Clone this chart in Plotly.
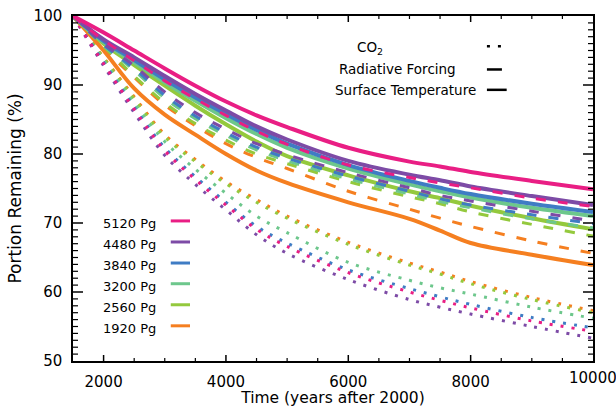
import plotly.graph_objects as go

# Time axis (years after 2000) shared by every curve
YEARS = [1500, 2000, 2500, 3000, 3500, 4000, 4500, 5000, 6000, 7000, 7500, 8000, 9000, 10000]

EMISSIONS = ["5120 Pg", "4480 Pg", "3840 Pg", "3200 Pg", "2560 Pg", "1920 Pg"]
COLORS = ["#E91E84", "#7D4BA6", "#3F7CC4", "#6DC78C", "#94C93D", "#F57F20"]

# Surface temperature, portion remaining (%)
TEMP_5120 = [100, 97.6, 95.0, 92.4, 89.9, 87.6, 85.6, 83.9, 80.9, 78.9, 78.2, 77.4, 76.1, 74.9]
TEMP_4480 = [100, 96.6, 94.0, 91.3, 88.7, 86.3, 84.0, 82.1, 79.0, 77.0, 76.2, 75.3, 73.9, 72.6]
TEMP_3840 = [100, 96.4, 93.6, 90.8, 88.2, 85.8, 83.5, 81.5, 78.4, 76.1, 75.1, 74.2, 72.8, 71.6]
TEMP_3200 = [100, 96.2, 93.3, 90.4, 87.7, 85.2, 82.9, 80.9, 77.9, 75.6, 74.6, 73.7, 72.2, 71.0]
TEMP_2560 = [100, 96.0, 92.9, 89.9, 87.0, 84.3, 81.8, 79.7, 76.9, 74.6, 73.6, 72.5, 70.7, 69.1]
TEMP_1920 = [100, 95.0, 89.5, 85.7, 82.8, 80.0, 77.6, 75.8, 73.0, 70.6, 68.9, 67.1, 65.4, 63.9]

# Radiative forcing, portion remaining (%)
RF_5120 = [100, 96.5, 93.5, 90.6, 88.0, 85.6, 83.3, 81.4, 78.4, 76.6, 75.8, 75.1, 73.6, 72.4]
RF_4480 = [100, 96.0, 92.8, 89.0, 86.0, 83.6, 81.5, 79.9, 77.3, 75.1, 74.0, 73.2, 71.7, 70.3]
RF_3840 = [100, 95.8, 92.4, 88.5, 85.5, 83.1, 81.0, 79.4, 76.8, 74.6, 73.5, 72.6, 71.2, 69.9]
RF_3200 = [100, 95.7, 92.1, 88.1, 85.1, 82.7, 80.6, 79.0, 76.4, 74.2, 73.1, 72.2, 70.6, 69.3]
RF_2560 = [100, 95.6, 91.3, 87.4, 84.4, 82.0, 80.0, 78.6, 76.0, 73.8, 72.8, 71.6, 69.8, 68.1]
RF_1920 = [100, 95.3, 91.1, 87.1, 84.1, 81.5, 79.5, 77.9, 74.6, 72.0, 70.7, 69.5, 67.4, 65.6]

# Atmospheric CO2, portion remaining (%)
CO2_5120 = [100, 93.1, 86.5, 80.5, 76.3, 72.6, 69.1, 66.6, 62.8, 60.0, 58.8, 57.7, 55.8, 54.3]
CO2_4480 = [100, 92.8, 86.0, 79.8, 75.6, 71.9, 68.3, 65.6, 61.8, 58.9, 57.8, 56.8, 55.0, 53.3]
CO2_3840 = [100, 93.3, 86.8, 80.9, 76.7, 73.0, 69.5, 67.1, 63.2, 60.5, 59.3, 58.2, 56.3, 54.8]
CO2_3200 = [100, 93.6, 87.4, 81.8, 77.8, 74.3, 71.0, 68.6, 64.3, 61.7, 60.6, 59.7, 57.8, 56.2]
CO2_2560 = [100, 93.9, 88.0, 82.5, 78.9, 75.7, 73.0, 70.7, 66.9, 63.9, 62.6, 61.2, 58.9, 57.0]
CO2_1920 = [100, 94.0, 88.3, 82.8, 79.2, 76.0, 73.4, 71.0, 67.2, 64.2, 62.9, 61.5, 59.2, 57.3]

TEMP = [TEMP_5120, TEMP_4480, TEMP_3840, TEMP_3200, TEMP_2560, TEMP_1920]
RF = [RF_5120, RF_4480, RF_3840, RF_3200, RF_2560, RF_1920]
CO2 = [CO2_5120, CO2_4480, CO2_3840, CO2_3200, CO2_2560, CO2_1920]

X_RANGE = [1500, 10000]
Y_RANGE = [50, 100]
X_TICKS = [2000, 4000, 6000, 8000, 10000]
X_TICK_TEXT = ["2000", "4000", "6000", "8000", ""]
Y_TICKS = [50, 60, 70, 80, 90, 100]
Y_TICK_TEXT = ["50", "60", "70", "80", "90", "100"]
X_MINOR_STEP = 500
Y_MINOR_STEP = 1

FONT = "DejaVu Sans"
DOT = "3px,8px"
DASH = "10px,12px"
AXIS_COLOR = "black"

# plot box in pixels, used to turn tick lengths into paper fractions
MARGIN = dict(l=73, r=23, t=16, b=46)
FIG_W, FIG_H = 616, 407
BOX_W = FIG_W - MARGIN["l"] - MARGIN["r"]
BOX_H = FIG_H - MARGIN["t"] - MARGIN["b"]

fig = go.Figure()

# draw larger emissions last so they sit on top
order = list(range(len(EMISSIONS)))[::-1]
for i in order:
    fig.add_trace(go.Scatter(x=YEARS, y=CO2[i], mode="lines", line_shape="spline",
                             line=dict(color=COLORS[i], width=3, dash=DOT),
                             showlegend=False, hoverinfo="skip"))
for i in order:
    fig.add_trace(go.Scatter(x=YEARS, y=TEMP[i], mode="lines", line_shape="spline",
                             line=dict(color=COLORS[i], width=4),
                             showlegend=False, hoverinfo="skip"))
for i in order:
    fig.add_trace(go.Scatter(x=YEARS, y=RF[i], mode="lines", line_shape="spline",
                             line=dict(color=COLORS[i], width=3, dash=DASH),
                             showlegend=False, hoverinfo="skip"))

# inward tick marks on all four sides of the box
def x_tick(xv, length_px, width):
    h = length_px / BOX_H
    for y0, y1 in ((0, h), (1, 1 - h)):
        fig.add_shape(type="line", xref="x", yref="paper", x0=xv, x1=xv, y0=y0, y1=y1,
                      line=dict(color=AXIS_COLOR, width=width))

def y_tick(yv, length_px, width):
    w = length_px / BOX_W
    for x0, x1 in ((0, w), (1, 1 - w)):
        fig.add_shape(type="line", xref="paper", yref="y", x0=x0, x1=x1, y0=yv, y1=yv,
                      line=dict(color=AXIS_COLOR, width=width))

for xv in range(X_RANGE[0] + X_MINOR_STEP, X_RANGE[1], X_MINOR_STEP):
    if xv in X_TICKS:
        x_tick(xv, 6, 1.5)
    else:
        x_tick(xv, 3, 1.2)
for yv in range(Y_RANGE[0] + Y_MINOR_STEP, Y_RANGE[1], Y_MINOR_STEP):
    if yv in Y_TICKS:
        y_tick(yv, 10, 1.5)
    else:
        y_tick(yv, 5, 1.2)

# emission legend (lower left)
leg_y = [0.398, 0.337, 0.276, 0.216, 0.155, 0.094]
for name, col, yy in zip(EMISSIONS, COLORS, leg_y):
    fig.add_annotation(x=0.054, y=yy, xref="paper", yref="paper", text=name,
                       showarrow=False, xanchor="left", yanchor="middle",
                       font=dict(family=FONT, size=13, color="black"))
    fig.add_shape(type="line", xref="paper", yref="paper", x0=0.188, x1=0.225,
                  y0=yy + 0.008, y1=yy + 0.008, line=dict(color=col, width=3))

# quantity legend (upper right)
q_labels = ["CO<sub>2</sub>", "Radiative Forcing", "Surface Temperature"]
q_right = [0.600, 0.740, 0.779]
q_y = [0.908, 0.845, 0.786]
q_line_y = [0.912, 0.845, 0.786]
q_dash = [DOT, "15px,20px", "solid"]
q_len = [0.038, 0.030, 0.038]
for lab, xr, yy, ly, ds, ln in zip(q_labels, q_right, q_y, q_line_y, q_dash, q_len):
    fig.add_annotation(x=xr, y=yy, xref="paper", yref="paper", text=lab,
                       showarrow=False, xanchor="right", yanchor="middle",
                       font=dict(family=FONT, size=13.5, color="black"))
    fig.add_shape(type="line", xref="paper", yref="paper", x0=0.796, x1=0.796 + ln,
                  y0=ly, y1=ly, line=dict(color="black", width=2.5, dash=ds))

# last x tick label sits at the page edge
fig.add_annotation(x=X_TICKS[-1], y=0, xref="x", yref="paper", text=str(X_TICKS[-1]),
                   showarrow=False, xanchor="center", yanchor="top", yshift=-6,
                   font=dict(family=FONT, size=15, color="black"))

axis_common = dict(showline=True, linecolor=AXIS_COLOR, linewidth=1.5, mirror=True,
                   ticks="", showgrid=False, zeroline=False, automargin=False,
                   tickfont=dict(family=FONT, size=15, color="black"))

fig.update_layout(
    width=FIG_W, height=FIG_H, margin=MARGIN,
    plot_bgcolor="white", paper_bgcolor="white",
    xaxis=dict(range=X_RANGE, tickmode="array", tickvals=X_TICKS, ticktext=X_TICK_TEXT,
               ticklabelstandoff=6,
               title=dict(text="Time (years after 2000)", standoff=6,
                          font=dict(family=FONT, size=15.5, color="black")),
               **axis_common),
    yaxis=dict(range=Y_RANGE, tickmode="array", tickvals=Y_TICKS, ticktext=Y_TICK_TEXT,
               ticklabelstandoff=6,
               title=dict(text="Portion Remaining (%)", standoff=8,
                          font=dict(family=FONT, size=17, color="black")),
               **axis_common),
)

fig.write_html("out.html")
